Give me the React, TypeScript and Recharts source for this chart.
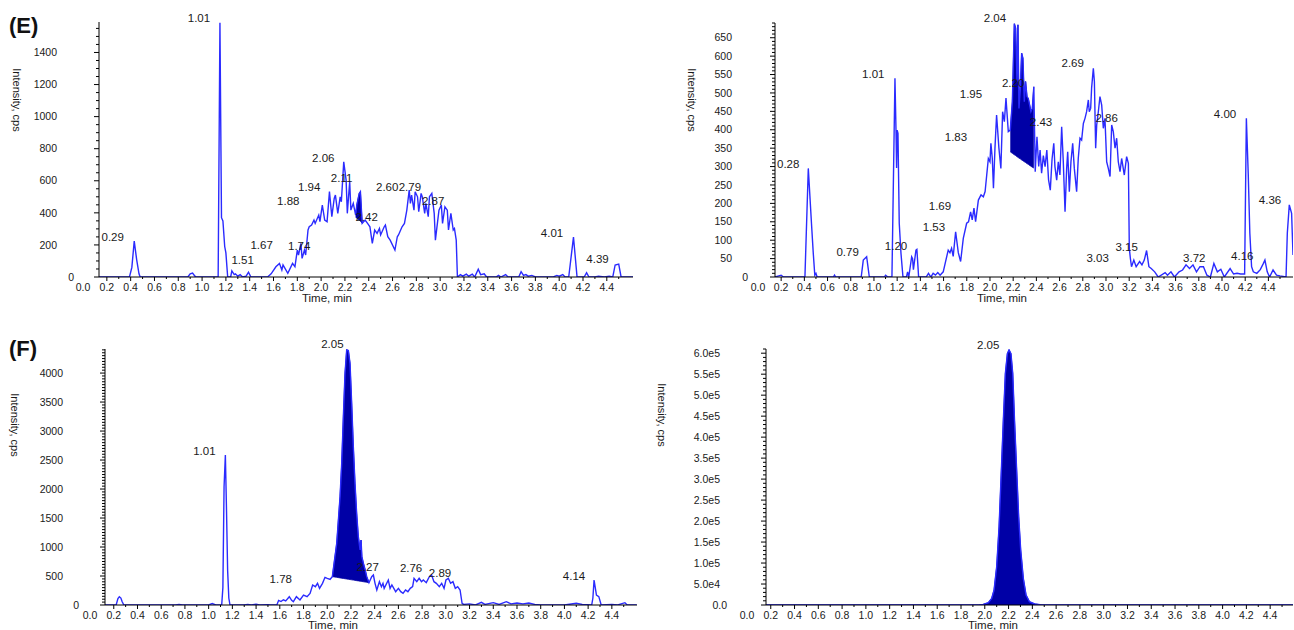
import React from 'react';
import { ComposedChart, Line, Area, XAxis, YAxis, ReferenceDot } from 'recharts';

const FONT = '"Liberation Sans", Arial, Helvetica, sans-serif';
const TRACE = '#2b2bff';
const PEAK_FILL = '#0000a6';
const INK = '#1a1a1a';
const X_AXIS_H = 20;

// ---- panel E, left trace ----
const eTime = [
  0.134, 0.39, 0.41, 0.43, 0.45, 0.47, 0.48, 0.88, 0.9, 0.92,
  0.94, 0.95, 1.135, 1.15, 1.163, 1.175, 1.19, 1.2, 1.215, 1.24,
  1.25, 1.27, 1.28, 1.3, 1.32, 1.34, 1.37, 1.39, 1.41, 1.55,
  1.58, 1.62, 1.65, 1.67, 1.68, 1.72, 1.76, 1.78, 1.8, 1.81,
  1.83, 1.84, 1.86, 1.87, 1.89, 1.9, 1.92, 1.94, 1.95, 1.98,
  1.99, 2.01, 2.03, 2.05, 2.07, 2.09, 2.11, 2.12, 2.14, 2.16,
  2.17, 2.19, 2.21, 2.22, 2.24, 2.25, 2.27, 2.29, 2.3, 2.32,
  2.33, 2.345, 2.37, 2.39, 2.41, 2.43, 2.45, 2.47, 2.49, 2.5,
  2.53, 2.54, 2.56, 2.58, 2.62, 2.64, 2.65, 2.68, 2.7, 2.72,
  2.74, 2.75, 2.76, 2.78, 2.79, 2.81, 2.82, 2.84, 2.85, 2.87,
  2.88, 2.9, 2.91, 2.93, 2.95, 2.96, 2.99, 3.01, 3.02, 3.04,
  3.06, 3.07, 3.09, 3.11, 3.12, 3.135, 3.145, 3.17, 3.19, 3.22,
  3.24, 3.27, 3.29, 3.32, 3.34, 3.37, 3.39, 3.47, 3.49, 3.51,
  3.55, 3.57, 3.66, 3.68, 3.7, 3.72, 3.74, 3.77, 3.8, 3.95,
  3.98, 4.0, 4.03, 4.05, 4.08, 4.12, 4.15, 4.21, 4.23, 4.25,
  4.3, 4.33, 4.38, 4.42, 4.45, 4.47, 4.5, 4.52, 4.62,
];
const eIntensity = [
  0, 0, 60, 224, 110, 20, 0, 0, 20, 25,
  5, 0, 0, 1585, 370, 350, 190, 150, 0, 0,
  38, 15, 20, 5, 15, 0, 5, 30, 0, 0,
  20, 64, 85, 44, 75, 23, 85, 64, 168, 137,
  210, 116, 168, 137, 293, 313, 324, 355, 334, 386,
  345, 449, 355, 345, 532, 376, 490, 511, 397, 500,
  469, 718, 604, 397, 594, 417, 459, 386, 450, 521,
  532, 335, 355, 334, 313, 210, 293, 272, 303, 262,
  313, 324, 251, 230, 168, 251, 262, 313, 334, 417,
  542, 459, 511, 417, 532, 500, 407, 521, 500, 397,
  459, 376, 500, 521, 397, 230, 417, 449, 334, 438,
  417, 293, 397, 293, 303, 230, 0, 15, 5, 18,
  5, 18, 0, 48, 15, 20, 0, 0, 10, 0,
  15, 0, 0, 33, 10, 15, 5, 10, 0, 0,
  10, 5, 15, 0, 0, 249, 0, 0, 27, 0,
  0, 5, 0, 5, 0, 75, 80, 0, 0,
];
const eFillTime = [2.29, 2.3, 2.32, 2.33, 2.345];
const eFillTop = [386, 450, 521, 532, 335];
const eFillBase = [372, 366, 355, 349, 335];
const ePeaks = [
  { t: 0.974, v: 1618, text: '1.01' },
  { t: 0.249, v: 247, text: '0.29' },
  { t: 1.341, v: 106, text: '1.51' },
  { t: 1.5, v: 199, text: '1.67' },
  { t: 1.816, v: 195, text: '1.74' },
  { t: 1.724, v: 474, text: '1.88' },
  { t: 1.9, v: 563, text: '1.94' },
  { t: 2.018, v: 743, text: '2.06' },
  { t: 2.172, v: 619, text: '2.11' },
  { t: 2.382, v: 372, text: '2.42' },
  { t: 2.555, v: 563, text: '2.60' },
  { t: 2.746, v: 563, text: '2.79' },
  { t: 2.941, v: 475, text: '2.87' },
  { t: 3.94, v: 276, text: '4.01' },
  { t: 4.322, v: 112, text: '4.39' },
];

// ---- panel E, right trace ----
const e2Time = [
  0.147, 0.2, 0.22, 0.405, 0.434, 0.463, 0.477, 0.49, 0.5, 0.51,
  0.65, 0.66, 0.67, 0.89, 0.908, 0.937, 0.96, 1.09, 1.1, 1.12,
  1.155, 1.181, 1.19, 1.195, 1.2, 1.207, 1.218, 1.233, 1.25, 1.28,
  1.29, 1.3, 1.325, 1.333, 1.34, 1.362, 1.37, 1.385, 1.45, 1.47,
  1.49, 1.51, 1.53, 1.55, 1.57, 1.597, 1.64, 1.655, 1.669, 1.683,
  1.704, 1.727, 1.747, 1.77, 1.799, 1.815, 1.833, 1.847, 1.862, 1.876,
  1.9, 1.923, 1.943, 1.958, 1.972, 1.986, 2.0, 2.008, 2.02, 2.03,
  2.043, 2.057, 2.077, 2.094, 2.109, 2.124, 2.138, 2.158, 2.175, 2.193,
  2.21, 2.221, 2.233, 2.241, 2.25, 2.261, 2.273, 2.284, 2.296, 2.307,
  2.319, 2.33, 2.342, 2.353, 2.365, 2.378, 2.39, 2.405, 2.42, 2.432,
  2.445, 2.46, 2.475, 2.49, 2.505, 2.52, 2.535, 2.55, 2.56, 2.575,
  2.589, 2.603, 2.618, 2.632, 2.647, 2.661, 2.67, 2.684, 2.698, 2.713,
  2.727, 2.747, 2.761, 2.776, 2.79, 2.805, 2.819, 2.833, 2.848, 2.856,
  2.868, 2.876, 2.891, 2.9, 2.911, 2.92, 2.934, 2.948, 2.963, 2.977,
  2.991, 3.006, 3.02, 3.035, 3.049, 3.063, 3.078, 3.092, 3.106, 3.121,
  3.135, 3.158, 3.178, 3.193, 3.201, 3.21, 3.22, 3.24, 3.26, 3.29,
  3.31, 3.33, 3.35, 3.37, 3.39, 3.42, 3.45, 3.51, 3.53, 3.56,
  3.59, 3.63, 3.66, 3.69, 3.72, 3.75, 3.78, 3.81, 3.84, 3.87,
  3.9, 3.93, 3.96, 3.99, 4.02, 4.07, 4.1, 4.13, 4.16, 4.195,
  4.21, 4.226, 4.24, 4.255, 4.27, 4.3, 4.33, 4.357, 4.37, 4.39,
  4.41, 4.44, 4.47, 4.5, 4.552, 4.563, 4.58, 4.6, 4.612,
];
const e2Intensity = [
  0, 5, 0, 0, 295, 137, 64, 5, 10, 0,
  0, 5, 0, 0, 46, 55, 0, 0, 5, 0,
  0, 540, 399, 296, 399, 390, 146, 64, 0, 0,
  14, 0, 55, 50, 20, 73, 75, 0, 0, 10,
  0, 10, 5, 12, 5, 14, 73, 66, 78, 56,
  123, 66, 42, 105, 146, 150, 177, 155, 187, 150,
  209, 223, 218, 232, 277, 322, 313, 363, 322, 241,
  350, 440, 350, 295, 449, 422, 486, 395, 399, 476,
  688, 676, 531, 685, 458, 509, 608, 594, 476, 531,
  490, 485, 467, 449, 458, 517, 286, 381, 300, 345,
  282, 330, 300, 345, 264, 236, 320, 363, 300, 263,
  313, 277, 408, 313, 177, 295, 340, 232, 313, 363,
  295, 232, 322, 377, 372, 417, 431, 449, 481, 449,
  458, 513, 567, 531, 350, 413, 449, 490, 467, 404,
  431, 313, 295, 273, 413, 395, 350, 377, 313, 286,
  322, 277, 327, 309, 78, 51, 28, 46, 28, 42,
  33, 46, 72, 28, 23, 14, 0, 12, 5, 14,
  0, 14, 19, 33, 23, 33, 14, 28, 28, 5,
  0, 37, 14, 21, 0, 23, 8, 10, 8, 8,
  431, 282, 119, 28, 14, 10, 20, 37, 46, 14,
  0, 19, 5, 3, 0, 119, 196, 173, 60,
];
const e2FillTime = [2.175, 2.193, 2.21, 2.221, 2.233, 2.241, 2.25, 2.261, 2.273, 2.284, 2.296, 2.307, 2.319, 2.33, 2.342, 2.353, 2.365, 2.378];
const e2FillTop = [399, 476, 688, 676, 531, 685, 458, 509, 608, 594, 476, 531, 490, 485, 467, 449, 458, 517];
const e2FillBase = [340, 336, 332, 330, 327, 325, 323, 321, 318, 316, 313, 311, 308, 306, 303, 301, 298, 296];
const e2Peaks = [
  { t: 0.261, v: 306, text: '0.28' },
  { t: 0.773, v: 67, text: '0.79' },
  { t: 0.994, v: 552, text: '1.01' },
  { t: 1.19, v: 85, text: '1.20' },
  { t: 1.517, v: 137, text: '1.53' },
  { t: 1.569, v: 194, text: '1.69' },
  { t: 1.707, v: 381, text: '1.83' },
  { t: 1.836, v: 497, text: '1.95' },
  { t: 2.043, v: 703, text: '2.04' },
  { t: 2.2, v: 526, text: '2.20' },
  { t: 2.44, v: 422, text: '2.43' },
  { t: 2.713, v: 582, text: '2.69' },
  { t: 3.006, v: 431, text: '2.86' },
  { t: 2.928, v: 52, text: '3.03' },
  { t: 3.178, v: 82, text: '3.15' },
  { t: 3.761, v: 53, text: '3.72' },
  { t: 4.026, v: 442, text: '4.00' },
  { t: 4.175, v: 57, text: '4.16' },
  { t: 4.414, v: 209, text: '4.36' },
];

// ---- panel F, left trace ----
const fTime = [
  0.126, 0.22, 0.235, 0.247, 0.26, 0.27, 0.285, 0.72, 0.75, 0.78,
  1.0, 1.03, 1.06, 1.11, 1.12, 1.13, 1.141, 1.15, 1.16, 1.17,
  1.18, 1.3, 1.33, 1.36, 1.4, 1.43, 1.5, 1.52, 1.575, 1.59,
  1.61, 1.63, 1.65, 1.68, 1.7, 1.714, 1.74, 1.77, 1.8, 1.83,
  1.855, 1.877, 1.9, 1.918, 1.935, 1.96, 1.981, 2.0, 2.024, 2.043,
  2.08, 2.108, 2.122, 2.136, 2.15, 2.164, 2.178, 2.192, 2.206, 2.22,
  2.234, 2.248, 2.262, 2.277, 2.285, 2.292, 2.305, 2.32, 2.333, 2.352,
  2.375, 2.389, 2.403, 2.418, 2.44, 2.457, 2.47, 2.48, 2.515, 2.53,
  2.545, 2.577, 2.6, 2.62, 2.639, 2.66, 2.68, 2.7, 2.72, 2.732,
  2.755, 2.775, 2.795, 2.81, 2.835, 2.861, 2.88, 2.9, 2.92, 2.945,
  2.965, 2.985, 3.001, 3.021, 3.04, 3.06, 3.08, 3.1, 3.12, 3.137,
  3.15, 3.2, 3.25, 3.3, 3.33, 3.4, 3.45, 3.51, 3.55, 3.6,
  3.65, 3.7, 3.75, 3.8, 4.0, 4.1, 4.15, 4.23, 4.24, 4.25,
  4.27, 4.29, 4.31, 4.4, 4.45, 4.51, 4.53, 4.61,
];
const fIntensity = [
  0, 0, 110, 143, 120, 60, 0, 0, 10, 0,
  0, 25, 0, 0, 300, 2040, 2586, 1700, 600, 120,
  0, 0, 10, 0, 15, 0, 5, 0, 0, 80,
  60, 90, 70, 143, 80, 57, 143, 86, 172, 143,
  201, 345, 316, 374, 287, 374, 477, 460, 443, 489,
  1063, 1868, 2443, 3247, 3995, 4400, 4390, 4167, 3477, 2730,
  2098, 1581, 1178, 948, 1121, 833, 719, 603, 489, 385,
  489, 517, 374, 259, 402, 316, 374, 287, 431, 287,
  345, 230, 287, 230, 201, 259, 230, 287, 316, 460,
  402, 460, 402, 431, 385, 489, 517, 402, 374, 316,
  374, 287, 431, 460, 374, 402, 287, 316, 259, 29,
  10, 20, 0, 46, 10, 40, 10, 57, 20, 35,
  20, 35, 10, 0, 0, 29, 10, 0, 120, 431,
  172, 144, 0, 10, 0, 40, 0, 0,
];
const fFillTime = [2.043, 2.08, 2.108, 2.122, 2.136, 2.15, 2.164, 2.178, 2.192, 2.206, 2.22, 2.234, 2.248, 2.262, 2.277, 2.285, 2.292, 2.305, 2.32, 2.333, 2.352];
const fFillTop = [489, 1063, 1868, 2443, 3247, 3995, 4400, 4390, 4167, 3477, 2730, 2098, 1581, 1178, 948, 1121, 833, 719, 603, 489, 385];
const fFillBase = [489, 477, 467, 462, 458, 453, 448, 444, 439, 434, 430, 425, 420, 416, 411, 408, 406, 401, 396, 392, 385];
const fPeaks = [
  { t: 0.964, v: 2655, text: '1.01' },
  { t: 1.608, v: 448, text: '1.78' },
  { t: 2.043, v: 4495, text: '2.05' },
  { t: 2.341, v: 650, text: '2.27' },
  { t: 2.707, v: 633, text: '2.76' },
  { t: 2.951, v: 547, text: '2.89' },
  { t: 4.081, v: 500, text: '4.14' },
];

// ---- panel F, right trace ----
const f2Time = [0.16, 1.95, 1.987, 2.03, 2.058, 2.078, 2.1, 2.12, 2.136, 2.156, 2.173, 2.19, 2.204, 2.22, 2.235, 2.25, 2.268, 2.285, 2.302, 2.324, 2.347, 2.375, 2.42, 2.464, 2.5, 4.592];
const f2Intensity = [0, 0, 1500, 5500, 15900, 35700, 91000, 186000, 297600, 440000, 551600, 599000, 608000, 599000, 551600, 440000, 321000, 210000, 131000, 63500, 23800, 7900, 2400, 800, 0, 0];
const f2Peaks = [{ t: 2.029, v: 619000, text: '2.05' }];

// axis labels
const eYLabels = [0, 200, 400, 600, 800, 1000, 1200, 1400];
const e2YLabels = [0, 50, 100, 150, 200, 250, 300, 350, 400, 450, 500, 550, 600, 650];
const fYLabels = [0, 500, 1000, 1500, 2000, 2500, 3000, 3500, 4000];
const f2YLabels = [0, 50000, 100000, 150000, 200000, 250000, 300000, 350000, 400000, 450000, 500000, 550000, 600000];
const xTicks = [0, ...Array.from({ length: 44 }, (_, i) => (i + 2) / 10)];

const plainFormat = (v: number) => String(v);
const sciFormat = (v: number) => {
  if (v === 0) return '0.0';
  const e = Math.floor(Math.log10(v));
  return `${(v / Math.pow(10, e)).toFixed(1)}e${e}`;
};

interface PeakLabel { t: number; v: number; text: string }

interface PanelProps {
  left: number; top: number; width: number; height: number;
  axisX: number; plotRight: number; plotTop: number; plotBottom: number;
  xDomain: [number, number]; yMax: number;
  yLabels: number[]; yMinorStep: number; yFormat: (v: number) => string;
  labelGap: number; zeroGap: number;
  yTitle: [number, number]; xTitle: [number, number];
  time: number[]; intensity: number[];
  fillTime?: number[]; fillTop?: number[]; fillBase?: number[];
  areaUnder?: boolean;
  peaks: PeakLabel[];
}

const renderXTick = (props: any) => {
  const { x, y, payload } = props;
  const v: number = payload.value;
  const tenth = Math.round(v * 10);
  const labelled = tenth % 2 === 0 && tenth <= 44;
  return (
    <g>
      {v > 0 && <line x1={x} x2={x} y1={y} y2={y + (labelled ? 4 : 2)} stroke="#000" />}
      {labelled && (
        <text x={x} y={y + 10} dy="0.35em" textAnchor="middle" fontSize={10.5} fill={INK}>
          {v.toFixed(1)}
        </text>
      )}
    </g>
  );
};

function Chromatogram(p: PanelProps) {
  const trace = p.time.map((t, i) => ({ t, v: p.intensity[i] }));
  const band = p.fillTime
    ? p.fillTime.map((t, i) => ({ t, band: [p.fillBase![i], p.fillTop![i]] }))
    : null;
  const yTicks: number[] = [];
  for (let k = 0; k * p.yMinorStep <= p.yMax; k++) yTicks.push(k * p.yMinorStep);
  const isMajor = (v: number) => p.yLabels.some((m) => Math.abs(m - v) < 1e-6);

  const renderYTick = (props: any) => {
    const { x, y, payload } = props;
    const v: number = payload.value;
    const major = isMajor(v);
    return (
      <g>
        <line x1={x - (major ? 5 : 3)} x2={x} y1={y} y2={y} stroke="#000" />
        {major && (
          <text x={x - (v === 0 ? p.zeroGap : p.labelGap)} y={y} dy="0.35em" textAnchor="end" fontSize={10.5} fill={INK}>
            {p.yFormat(v)}
          </text>
        )}
      </g>
    );
  };

  return (
    <div style={{ position: 'absolute', left: p.left, top: p.top }}>
      <ComposedChart
        width={p.width}
        height={p.height}
        margin={{ top: p.plotTop, right: p.width - p.plotRight, bottom: p.height - p.plotBottom - X_AXIS_H, left: 0 }}
      >
        <XAxis
          type="number"
          dataKey="t"
          domain={p.xDomain}
          allowDataOverflow
          ticks={xTicks}
          interval={0}
          height={X_AXIS_H}
          tickSize={0}
          tickMargin={0}
          tickLine={false}
          axisLine={{ stroke: '#000' }}
          tick={renderXTick}
          label={{
            value: 'Time, min',
            content: () => (
              <text x={p.xTitle[0]} y={p.xTitle[1]} dy="0.35em" textAnchor="middle" fontSize={11.5} fill={INK}>
                Time, min
              </text>
            ),
          }}
        />
        <YAxis
          type="number"
          domain={[0, p.yMax]}
          allowDataOverflow
          ticks={yTicks}
          interval={0}
          width={p.axisX}
          tickSize={0}
          tickMargin={0}
          tickLine={false}
          axisLine={{ stroke: '#000' }}
          tick={renderYTick}
          label={{
            value: 'Intensity, cps',
            content: () => (
              <text
                x={p.yTitle[0]}
                y={p.yTitle[1]}
                dy="0.35em"
                textAnchor="middle"
                fontSize={11}
                fill={INK}
                transform={`rotate(90 ${p.yTitle[0]} ${p.yTitle[1]})`}
              >
                Intensity, cps
              </text>
            ),
          }}
        />
        <Line data={trace} dataKey="v" type="linear" stroke={TRACE} strokeWidth={1.4} dot={false} activeDot={false} isAnimationActive={false} />
        {band && (
          <Area data={band} dataKey="band" type="linear" stroke={PEAK_FILL} strokeWidth={0.8} fill={PEAK_FILL} fillOpacity={1} dot={false} activeDot={false} isAnimationActive={false} />
        )}
        {p.areaUnder && (
          <Area data={trace} dataKey="v" type="linear" baseValue={0} stroke={PEAK_FILL} strokeWidth={0.8} fill={PEAK_FILL} fillOpacity={1} dot={false} activeDot={false} isAnimationActive={false} />
        )}
        {p.peaks.map((pk) => (
          <ReferenceDot
            key={`${pk.text}-${pk.t}`}
            x={pk.t}
            y={pk.v}
            r={0}
            ifOverflow="visible"
            label={{ value: pk.text, position: 'center', fontSize: 11.5, fill: INK }}
          />
        ))}
      </ComposedChart>
    </div>
  );
}

export default function App() {
  return (
    <div style={{ position: 'absolute', left: 0, top: 0, width: 1294, height: 630, background: '#fff', fontFamily: FONT, overflow: 'hidden' }}>
      <Chromatogram
        left={0} top={0} width={640} height={310}
        axisX={99} plotRight={633} plotTop={22} plotBottom={277}
        xDomain={[0.134, 4.62]} yMax={1590}
        yLabels={eYLabels} yMinorStep={50} yFormat={plainFormat}
        labelGap={42} zeroGap={25}
        yTitle={[17, 100]} xTitle={[327, 298]}
        time={eTime} intensity={eIntensity}
        fillTime={eFillTime} fillTop={eFillTop} fillBase={eFillBase}
        peaks={ePeaks}
      />
      <Chromatogram
        left={660} top={0} width={634} height={310}
        axisX={115} plotRight={633} plotTop={23} plotBottom={277}
        xDomain={[0.147, 4.612]} yMax={690}
        yLabels={e2YLabels} yMinorStep={10} yFormat={plainFormat}
        labelGap={43} zeroGap={27}
        yTitle={[32, 100]} xTitle={[342, 298]}
        time={e2Time} intensity={e2Intensity}
        fillTime={e2FillTime} fillTop={e2FillTop} fillBase={e2FillBase}
        peaks={e2Peaks}
      />
      <Chromatogram
        left={0} top={320} width={645} height={310}
        axisX={105} plotRight={637} plotTop={29} plotBottom={285}
        xDomain={[0.126, 4.612]} yMax={4415}
        yLabels={fYLabels} yMinorStep={50} yFormat={plainFormat}
        labelGap={42} zeroGap={26}
        yTitle={[15, 105]} xTitle={[333, 305]}
        time={fTime} intensity={fIntensity}
        fillTime={fFillTime} fillTop={fFillTop} fillBase={fFillBase}
        peaks={fPeaks}
      />
      <Chromatogram
        left={650} top={320} width={644} height={310}
        axisX={116} plotRight={643} plotTop={29} plotBottom={285}
        xDomain={[0.16, 4.592]} yMax={610000}
        yLabels={f2YLabels} yMinorStep={10000} yFormat={sciFormat}
        labelGap={46} zeroGap={39}
        yTitle={[12, 95]} xTitle={[343, 305]}
        time={f2Time} intensity={f2Intensity}
        areaUnder
        peaks={f2Peaks}
      />
      <div style={{ position: 'absolute', left: 9, top: 14, fontSize: 22, fontWeight: 'bold', lineHeight: '24px', color: '#111' }}>(E)</div>
      <div style={{ position: 'absolute', left: 9, top: 337, fontSize: 22, fontWeight: 'bold', lineHeight: '24px', color: '#111' }}>(F)</div>
    </div>
  );
}
